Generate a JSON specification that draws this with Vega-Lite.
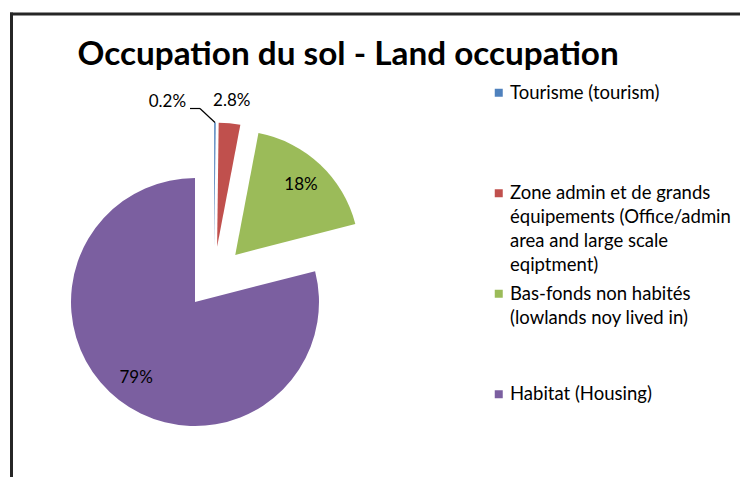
{
  "$schema": "https://vega.github.io/schema/vega-lite/v6.json",
  "width": 728.5,
  "height": 463,
  "autosize": {"type": "none"},
  "padding": {"left": 11.5, "top": 14, "right": 0, "bottom": 0},
  "background": "white",
  "config": {
    "view": {"stroke": null},
    "style": {"guide-label": {"lineHeight": 24}}
  },
  "title": {
    "text": "Occupation du sol - Land occupation",
    "anchor": "start",
    "frame": "group",
    "offset": 0,
    "dx": 66,
    "dy": 60,
    "font": "Lato",
    "fontSize": 33.3,
    "fontWeight": "bold",
    "color": "black"
  },
  "data": {
    "values": [
      {"category": "Tourisme (tourism)", "value": 0.2},
      {"category": "Zone admin et de grands équipements (Office/admin area and large scale eqiptment)", "value": 2.8},
      {"category": "Bas-fonds non habités (lowlands noy lived in)", "value": 18},
      {"category": "Habitat (Housing)", "value": 79}
    ]
  },
  "transform": [
    {"window": [{"op": "sum", "field": "value", "as": "end"}], "frame": [null, 0]},
    {"calculate": "datum.end - datum.value", "as": "start"},
    {"calculate": "(datum.start + datum.end) / 2", "as": "mid"},
    {"calculate": "datum.value + '%'", "as": "label"}
  ],
  "layer": [
    {
      "data": {"values": [{"edge": "top"}]},
      "mark": {"type": "rule", "color": "#262626", "strokeWidth": 3, "strokeCap": "square"},
      "encoding": {"y": {"value": 0}}
    },
    {
      "data": {"values": [{"edge": "left"}]},
      "mark": {"type": "rule", "color": "#262626", "strokeWidth": 3, "strokeCap": "square"},
      "encoding": {"x": {"value": 0}}
    },
    {
      "mark": {
        "type": "arc",
        "outerRadius": 124,
        "x": {"expr": "202.5 + 31 * sin(PI * datum.mid / 50)"},
        "y": {"expr": "263.5 - 31 * cos(PI * datum.mid / 50)"}
      },
      "encoding": {
        "theta": {"field": "start", "type": "quantitative", "scale": {"domain": [0, 100]}},
        "theta2": {"field": "end"},
        "color": {
          "field": "category",
          "type": "nominal",
          "scale": {
            "domain": [
              "Tourisme (tourism)",
              "Zone admin et de grands équipements (Office/admin area and large scale eqiptment)",
              "Bas-fonds non habités (lowlands noy lived in)",
              "Habitat (Housing)"
            ],
            "range": ["#4F81BD", "#C0504D", "#9BBB59", "#7B5FA0"]
          },
          "legend": {
            "orient": "none",
            "legendX": 478,
            "legendY": 69.5,
            "title": null,
            "symbolType": "square",
            "symbolSize": 64,
            "symbolStrokeWidth": 0,
            "labelFont": "Lato",
            "labelFontSize": 18.5,
            "labelColor": "black",
            "labelLimit": 0,
            "labelOffset": 2,
            "rowPadding": 9.5,
            "labelExpr": "datum.label == 'Tourisme (tourism)' ? ['Tourisme (tourism)', '', '', ''] : datum.label == 'Habitat (Housing)' ? ['Habitat (Housing)', '', '', ''] : datum.label == 'Bas-fonds non habités (lowlands noy lived in)' ? ['Bas-fonds non habités', '(lowlands noy lived in)', '', ''] : ['Zone admin et de grands', 'équipements (Office/admin', 'area and large scale', 'eqiptment)']"
          }
        }
      }
    },
    {
      "transform": [{"filter": "datum.value < 1"}],
      "mark": {"type": "rule", "color": "black", "strokeWidth": 1.2},
      "encoding": {
        "x": {"value": {"expr": "202.5 + 155 * sin(PI * datum.mid / 50)"}},
        "y": {"value": {"expr": "263.5 - 155 * cos(PI * datum.mid / 50)"}},
        "x2": {"value": {"expr": "202.5 + 155 * sin(PI * datum.mid / 50) - 15"}},
        "y2": {"value": {"expr": "263.5 - 155 * cos(PI * datum.mid / 50) - 14"}}
      }
    },
    {
      "transform": [{"filter": "datum.value < 1"}],
      "mark": {"type": "rule", "color": "black", "strokeWidth": 1.2},
      "encoding": {
        "x": {"value": {"expr": "202.5 + 155 * sin(PI * datum.mid / 50) - 15"}},
        "y": {"value": {"expr": "263.5 - 155 * cos(PI * datum.mid / 50) - 14"}},
        "x2": {"value": {"expr": "202.5 + 155 * sin(PI * datum.mid / 50) - 25"}},
        "y2": {"value": {"expr": "263.5 - 155 * cos(PI * datum.mid / 50) - 14"}}
      }
    },
    {
      "transform": [{"filter": "datum.value >= 10"}],
      "mark": {
        "type": "text",
        "radius": 96,
        "font": "Lato",
        "fontSize": 17,
        "color": "black",
        "x": {"expr": "202.5 + 31 * sin(PI * datum.mid / 50)"},
        "y": {"expr": "263.5 - 31 * cos(PI * datum.mid / 50)"}
      },
      "encoding": {
        "theta": {"field": "mid", "type": "quantitative", "scale": {"domain": [0, 100]}},
        "text": {"field": "label"}
      }
    },
    {
      "transform": [{"filter": "datum.value > 1 && datum.value < 10"}],
      "mark": {
        "type": "text",
        "radius": 146,
        "font": "Lato",
        "fontSize": 17,
        "color": "black",
        "x": {"expr": "202.5 + 31 * sin(PI * datum.mid / 50)"},
        "y": {"expr": "263.5 - 31 * cos(PI * datum.mid / 50)"}
      },
      "encoding": {
        "theta": {"field": "mid", "type": "quantitative", "scale": {"domain": [0, 100]}},
        "text": {"field": "label"}
      }
    },
    {
      "transform": [{"filter": "datum.value < 1"}],
      "mark": {
        "type": "text",
        "radius": 146,
        "align": "right",
        "dx": -29,
        "dy": 1.5,
        "font": "Lato",
        "fontSize": 17,
        "color": "black",
        "x": {"expr": "202.5 + 31 * sin(PI * datum.mid / 50)"},
        "y": {"expr": "263.5 - 31 * cos(PI * datum.mid / 50)"}
      },
      "encoding": {
        "theta": {"field": "mid", "type": "quantitative", "scale": {"domain": [0, 100]}},
        "text": {"field": "label"}
      }
    }
  ]
}
